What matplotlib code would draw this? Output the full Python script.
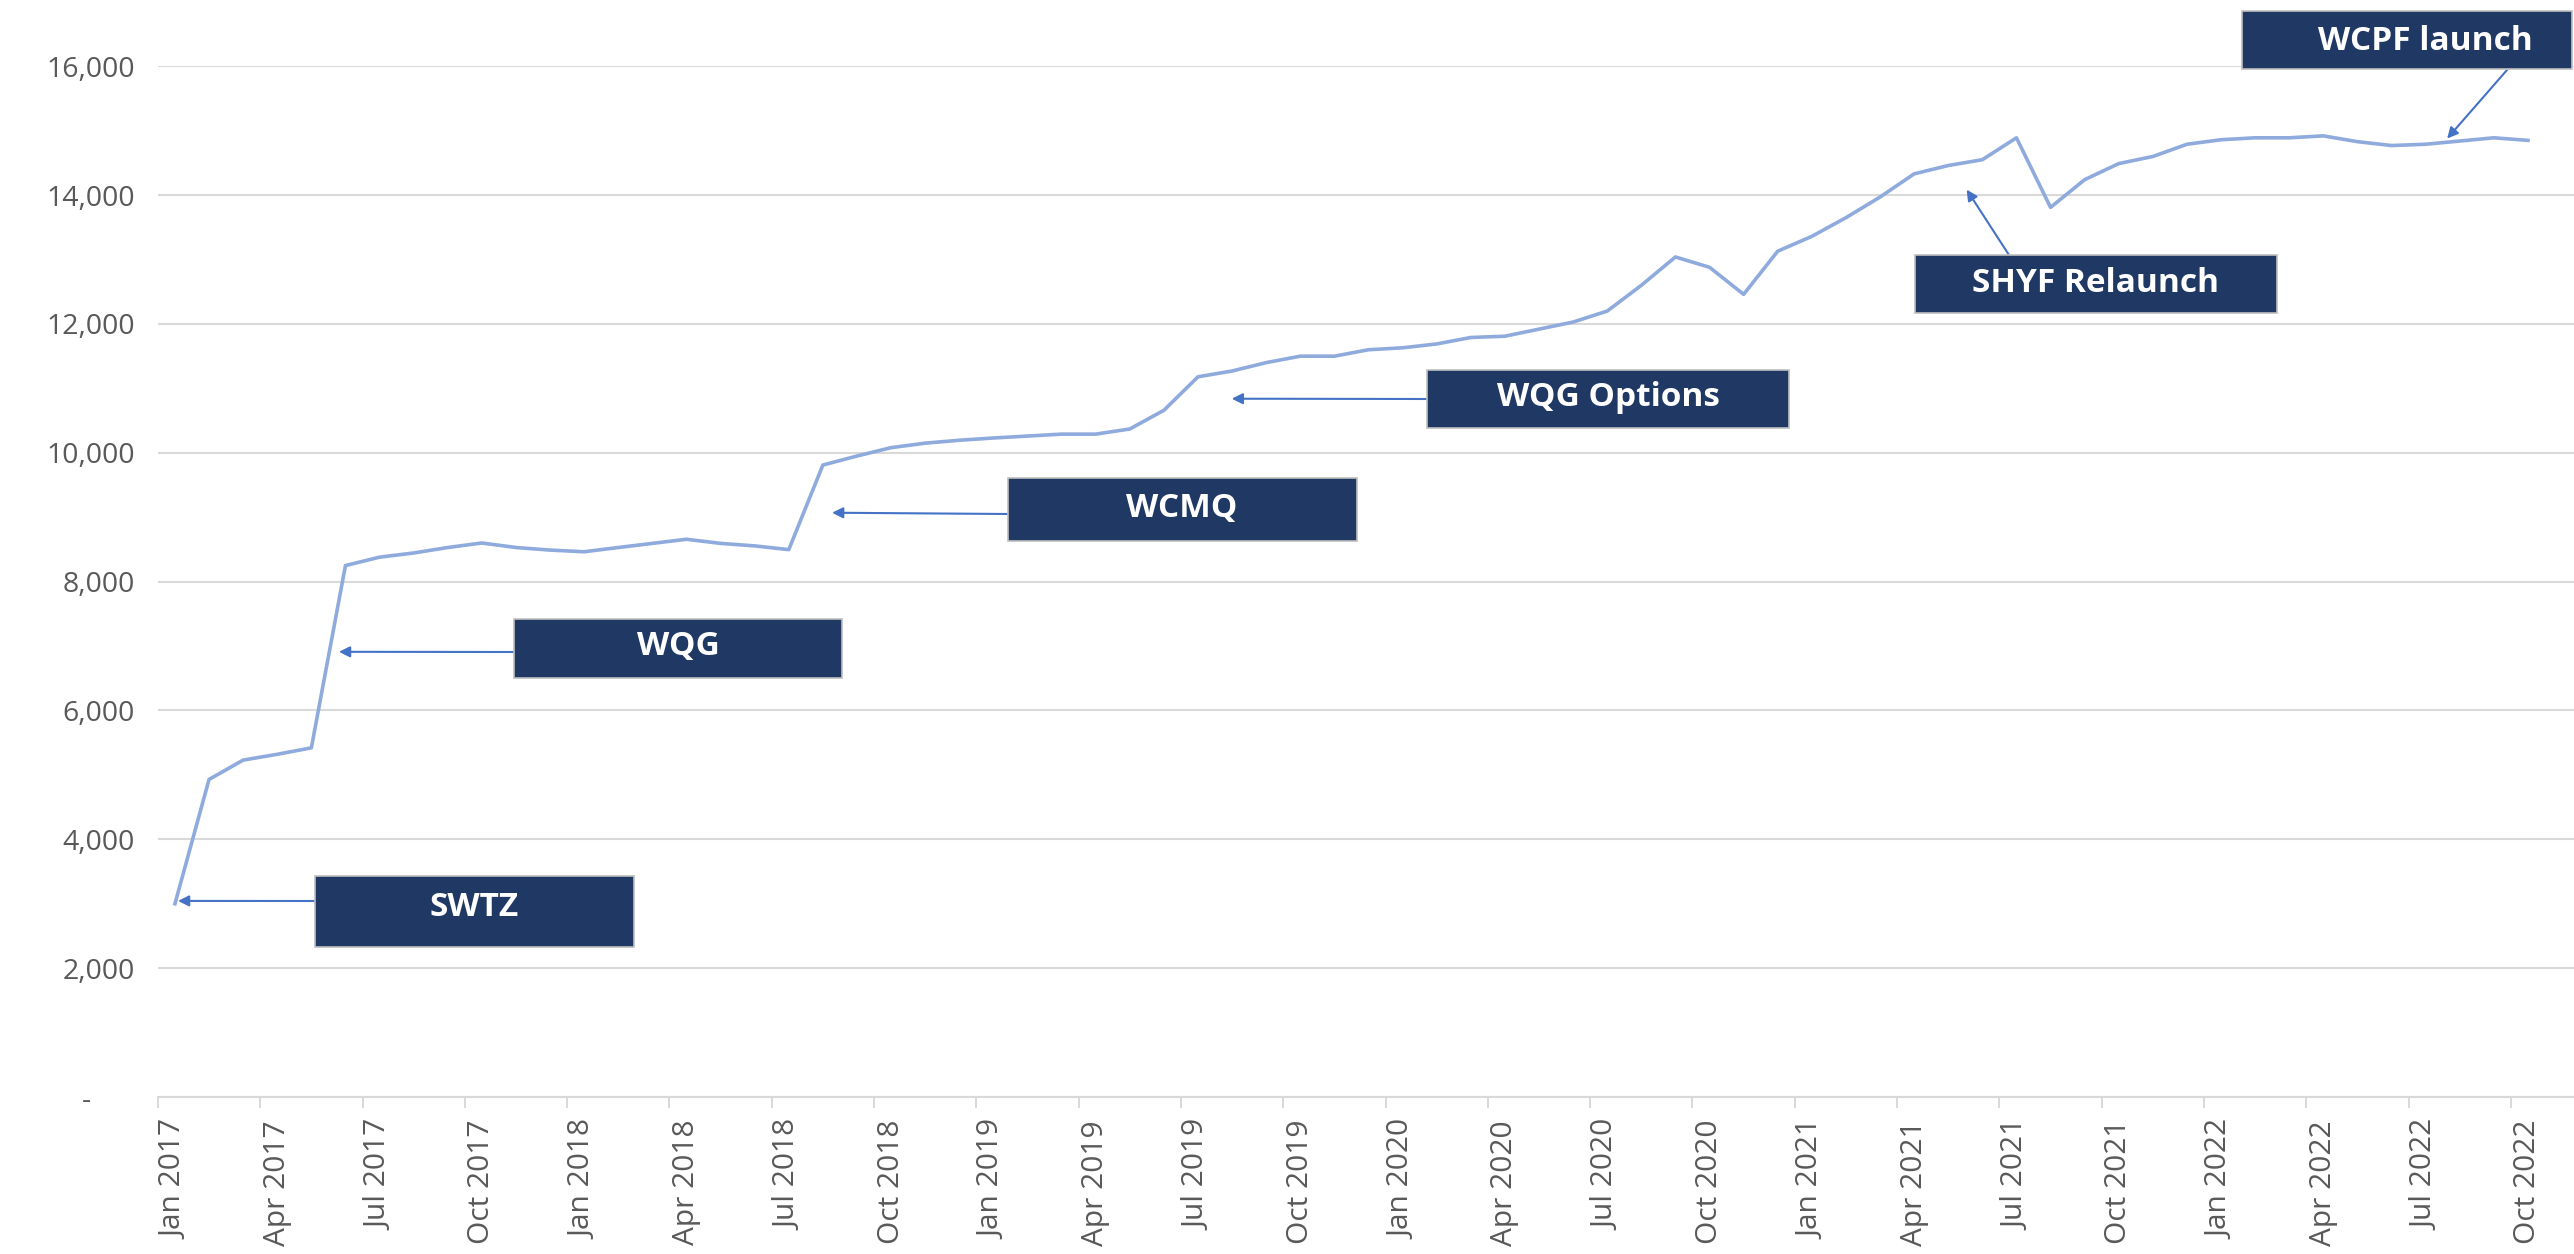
import matplotlib
matplotlib.use("Agg")
import matplotlib.pyplot as plt
from matplotlib.patches import Rectangle
from matplotlib.ticker import FixedLocator, FuncFormatter
import pandas as pd

# ---------------- data ----------------
months = [d.strftime("%b %Y") for d in pd.date_range("2017-01-01", "2022-10-01", freq="MS")]
values = [
    3000, 4930, 5230, 5320, 5420, 8250, 8380, 8445, 8530, 8600, 8530, 8490,        # 2017
    8464, 8530, 8594, 8658, 8594, 8555, 8497, 9810, 9950, 10080, 10150, 10195,     # 2018
    10230, 10260, 10290, 10290, 10370, 10660, 11180, 11270, 11400, 11500, 11500, 11600,  # 2019
    11630, 11690, 11790, 11810, 11920, 12030, 12200, 12600, 13040, 12880, 12460, 13130,  # 2020
    13360, 13650, 13970, 14330, 14460, 14550, 14890, 13810, 14240, 14490, 14600, 14790,  # 2021
    14860, 14890, 14890, 14920, 14830, 14770, 14790, 14840, 14890, 14850,               # 2022
]
y_ticks = [0, 2000, 4000, 6000, 8000, 10000, 12000, 14000, 16000]

# annotations: label, arrow target (category position, value)
ann_labels = ["SWTZ", "WQG", "WCMQ", "WQG Options", "SHYF Relaunch", "WCPF launch"]
ann_target_x = [0.09, 4.81, 19.27, 30.99, 52.54, 66.63]
ann_target_y = [3044, 6911, 9070, 10840, 14086, 14878]

# ---------------- style ----------------
W, H = 2574, 1254
DPI = 100
FONT = ["Open Sans", "DejaVu Sans"]
GRID = "#D9D9D9"
TXT = "#595959"
LINE = "#8FAADC"
ARROW = "#4472C4"
BOX = "#203864"

plt.rcParams["font.family"] = FONT

fig = plt.figure(figsize=(W / DPI, H / DPI), dpi=DPI)
fig.patch.set_facecolor("white")

# axes placement (pixels from top-left)
ax_left_px, ax_right_px = 157.9, 2574
ax_top_px, ax_bottom_px = 66.3, 1097
ax = fig.add_axes([ax_left_px / W, 1 - ax_bottom_px / H,
                   (ax_right_px - ax_left_px) / W, (ax_bottom_px - ax_top_px) / H])

x = list(range(len(values)))
ax.plot(x, values, color=LINE, lw=2.6, solid_joinstyle="round", zorder=3)

ax.set_xlim(-0.5, 70.35)
ax.set_ylim(0, 16000)

# y axis
ax.yaxis.set_major_locator(FixedLocator(y_ticks))
ax.yaxis.set_major_formatter(FuncFormatter(lambda v, p: "-      " if v == 0 else f"{v:,.0f}"))
ax.tick_params(axis="y", length=0, pad=16.5, labelsize=20.5, labelcolor=TXT)
ax.grid(axis="y", color=GRID, lw=1.5, zorder=0)
ax.set_axisbelow(True)

# x axis: labels at category centres, tick marks on boundaries
label_pos = list(range(0, len(months), 3))
ax.xaxis.set_major_locator(FixedLocator(label_pos))
ax.set_xticklabels([months[i] for i in label_pos], rotation=90)
ax.xaxis.set_minor_locator(FixedLocator([p - 0.5 for p in label_pos]))
ax.tick_params(axis="x", which="major", length=0, pad=16.5, labelsize=21.5, labelcolor=TXT)
ax.tick_params(axis="x", which="minor", length=8, width=1.4, color=GRID, direction="out")

for s in ["top", "right", "left"]:
    ax.spines[s].set_visible(False)
ax.spines["bottom"].set_color(GRID)
ax.spines["bottom"].set_linewidth(1.5)

# annotation boxes (pixel layout: left, top, right, bottom), text centre, arrow tail
boxes = [
    (315, 876, 634, 947),
    (514, 619, 842, 678),
    (1008, 478, 1357, 541),
    (1427, 370, 1789, 428),
    (1915, 255, 2277, 313),
    (2242, 11, 2572, 69),
]
text_centers = [
    (474, 907), (678, 646), (1182, 508), (1608, 397), (2096, 283), (2425, 41),
]
tails = [
    (315, 901), (514, 652), (1008, 514), (1427, 399), (2009, 255), (2507, 70),
]


def fx(px):
    return px / W


def fy(py):
    return 1 - py / H


for lab, tx, ty, (l, t, r, b), (cx, cy), (ax_px, ay_px) in zip(
        ann_labels, ann_target_x, ann_target_y, boxes, text_centers, tails):
    ax.annotate("", xy=(tx, ty), xycoords="data",
                xytext=(fx(ax_px), fy(ay_px)), textcoords="figure fraction",
                arrowprops=dict(arrowstyle="-|>", color=ARROW, lw=1.5,
                                mutation_scale=16, shrinkA=0, shrinkB=0),
                annotation_clip=False, zorder=4)
    rect = Rectangle((fx(l), fy(b)), fx(r) - fx(l), fy(t) - fy(b),
                     transform=fig.transFigure, facecolor=BOX,
                     edgecolor="#BFBFBF", lw=1.2, zorder=5)
    fig.add_artist(rect)
    fig.text(fx(cx), fy(cy), lab, ha="center", va="center", color="white",
             fontsize=24, fontweight="bold", family=FONT, zorder=6)

fig.savefig("out.png", dpi=DPI, facecolor="white")
